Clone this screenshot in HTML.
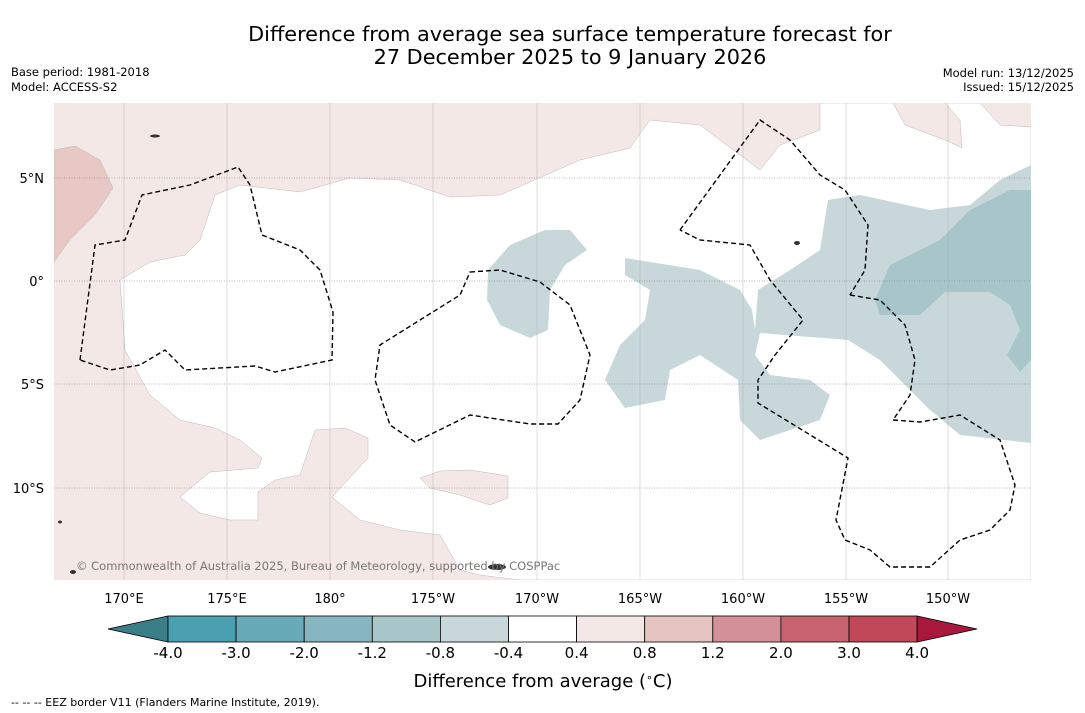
<!DOCTYPE html>
<html><head><meta charset="utf-8"><style>
body{margin:0;background:#fff;width:1085px;height:713px;overflow:hidden;font-family:"DejaVu Sans",sans-serif}
svg{position:absolute;left:0;top:0}
</style></head><body>
<svg width="1085" height="713" font-family="DejaVu Sans, sans-serif">
<text x="570" y="41" font-size="20.8" text-anchor="middle">Difference from average sea surface temperature forecast for</text>
<text x="570" y="64" font-size="20.8" text-anchor="middle">27 December 2025 to 9 January 2026</text>
<text x="11" y="76" font-size="11.5">Base period: 1981-2018</text>
<text x="11" y="91" font-size="11.5">Model: ACCESS-S2</text>
<text x="1074" y="77" font-size="11.5" text-anchor="end">Model run: 13/12/2025</text>
<text x="1074" y="91" font-size="11.5" text-anchor="end">Issued: 15/12/2025</text>
<defs><clipPath id="mc"><rect x="54" y="103" width="977" height="477"/></clipPath></defs>
<g clip-path="url(#mc)">
<rect x="54" y="103" width="977" height="477" fill="#f4e8e6"/>
<polygon fill="#fff" stroke="#bbb" stroke-width="0.5" points="120,280 150,262 185,255 200,240 215,195 240,185 300,192 350,178 400,180 450,197 500,195 580,160 630,148 650,120 700,125 760,170 780,145 820,130 820,103 893,103 905,125 945,140 962,148 960,120 945,103 980,103 1000,125 1031,127 1031,580 520,580 480,575 460,570 440,535 400,530 360,520 332,497 368,458 368,438 345,428 315,430 300,475 275,480 258,492 258,520 230,520 200,513 180,497 210,472 258,468 262,458 240,440 215,428 180,420 150,395 125,350"/>
<polygon fill="#f4e8e6" stroke="#bbb" stroke-width="0.5" points="420,478 440,471 470,470 508,476 508,498 490,505 460,495 430,488"/>
<polygon fill="#e8c8c4" stroke="#bbb" stroke-width="0.5" points="54,150 75,146 100,160 113,188 95,215 70,240 54,262"/>
<polygon fill="#c8d8da" points="488,270 510,245 545,230 570,230 587,250 565,265 550,290 548,330 530,338 500,325 487,300"/>
<polygon fill="#c8d8da" points="625,258 650,262 700,270 740,290 752,310 755,330 758,290 790,270 820,250 828,200 860,195 930,210 970,205 1000,180 1031,165 1031,443 960,435 930,410 880,360 848,340 760,333 755,355 770,375 810,380 830,395 820,420 790,430 760,440 740,420 738,380 700,355 670,370 665,400 625,408 605,380 620,345 645,320 650,290 625,275"/>
<polygon fill="#a8c6ca" points="1031,190 1010,190 970,210 940,240 890,265 875,300 880,315 920,315 945,292 990,292 1010,305 1020,330 1007,355 1020,372 1031,360"/>
<g stroke="#aaa" stroke-width="0.4">
<line x1="124" y1="103" x2="124" y2="580"/><line x1="227" y1="103" x2="227" y2="580"/><line x1="330" y1="103" x2="330" y2="580"/><line x1="433" y1="103" x2="433" y2="580"/><line x1="537" y1="103" x2="537" y2="580"/><line x1="640" y1="103" x2="640" y2="580"/><line x1="743" y1="103" x2="743" y2="580"/><line x1="846" y1="103" x2="846" y2="580"/><line x1="948" y1="103" x2="948" y2="580"/>
<g stroke="#555" stroke-dasharray="1,1.5"><line x1="54" y1="178" x2="1031" y2="178"/><line x1="54" y1="281" x2="1031" y2="281"/><line x1="54" y1="384" x2="1031" y2="384"/><line x1="54" y1="488" x2="1031" y2="488"/></g>
</g>
<g fill="none" stroke="#000" stroke-width="1.4" stroke-dasharray="5,3">
<polygon points="80,360 95,245 125,240 142,195 190,185 238,167 250,185 262,235 300,250 320,270 333,312 332,360 275,372 255,366 185,370 165,350 140,365 110,370"/>
<polygon points="470,272 500,270 540,282 570,305 590,355 580,400 558,424 530,424 470,415 415,442 390,425 375,380 380,345 420,320 460,295"/>
<polyline points="680,230 760,120 790,140 820,175 845,190 868,225 865,270 850,295"/>
<polyline points="850,295 880,300 905,325 915,360 910,395 893,420"/>
<polyline points="893,420 920,422 960,415 1000,440 1015,485 1010,510 990,530 960,540 930,567 890,567 870,550 845,540 836,520 848,458 758,403 758,380 775,355 803,320 770,280 750,245 700,240 680,230"/>
</g>
<g fill="#333">
<ellipse cx="497" cy="567" rx="9" ry="3"/><ellipse cx="73" cy="572" rx="3" ry="2"/><ellipse cx="60" cy="522" rx="2" ry="1.5"/><ellipse cx="155" cy="136" rx="5" ry="1.5"/><ellipse cx="797" cy="243" rx="3" ry="2"/>
</g>
<text x="76" y="570" font-size="11.5" fill="#777">© Commonwealth of Australia 2025, Bureau of Meteorology, supported by COSPPac</text>
</g>
<g font-size="13" text-anchor="middle">
<text x="124" y="603">170°E</text><text x="227" y="603">175°E</text><text x="330" y="603">180°</text><text x="433" y="603">175°W</text><text x="537" y="603">170°W</text><text x="640" y="603">165°W</text><text x="743" y="603">160°W</text><text x="846" y="603">155°W</text><text x="948" y="603">150°W</text>
</g>
<g font-size="13" text-anchor="end">
<text x="44" y="183">5°N</text><text x="44" y="286">0°</text><text x="44" y="389">5°S</text><text x="44" y="493">10°S</text>
</g>
<g id="cbar"></g>
<text x="543" y="687" font-size="18" text-anchor="middle">Difference from average (<tspan baseline-shift="super" font-size="11">∘</tspan>C)</text>
<text x="11" y="706" font-size="11">--  --  -- EEZ border V11 (Flanders Marine Institute, 2019).</text>
</svg>
<script>
const levels=["-4.0","-3.0","-2.0","-1.2","-0.8","-0.4","0.4","0.8","1.2","2.0","3.0","4.0"];
const binColors=["#4aa0b0","#68aab8","#88b6c0","#a8c6ca","#c8d8da","#ffffff","#f4e8e6","#e6c4c0","#d49098","#c86470","#c04858"];
const underColor="#3a7e88", overColor="#a8183c";
const ns="http://www.w3.org/2000/svg", g=document.getElementById('cbar');
const x0=168,w=68.1,y0=616,h=26;
function mk(t,a){const e=document.createElementNS(ns,t);for(const k in a)e.setAttribute(k,a[k]);g.appendChild(e);return e;}
const lt=mk('polygon',{points:`108,${y0+h/2} ${x0},${y0} ${x0},${y0+h}`,fill:underColor,stroke:'#000','stroke-width':0.8});


binColors.forEach((c,i)=>{const r=mk('rect',{x:x0+i*w,y:y0,width:w,height:h,fill:c,stroke:'#000','stroke-width':0.8});

});
const xe=x0+binColors.length*w;
const rt=mk('polygon',{points:`${xe},${y0} 977,${y0+h/2} ${xe},${y0+h}`,fill:overColor,stroke:'#000','stroke-width':0.8});


levels.forEach((l,i)=>{const t=mk('text',{x:x0+i*w,y:658,'font-size':15,'text-anchor':'middle'});t.textContent=l;

});
</script>
</body></html>
